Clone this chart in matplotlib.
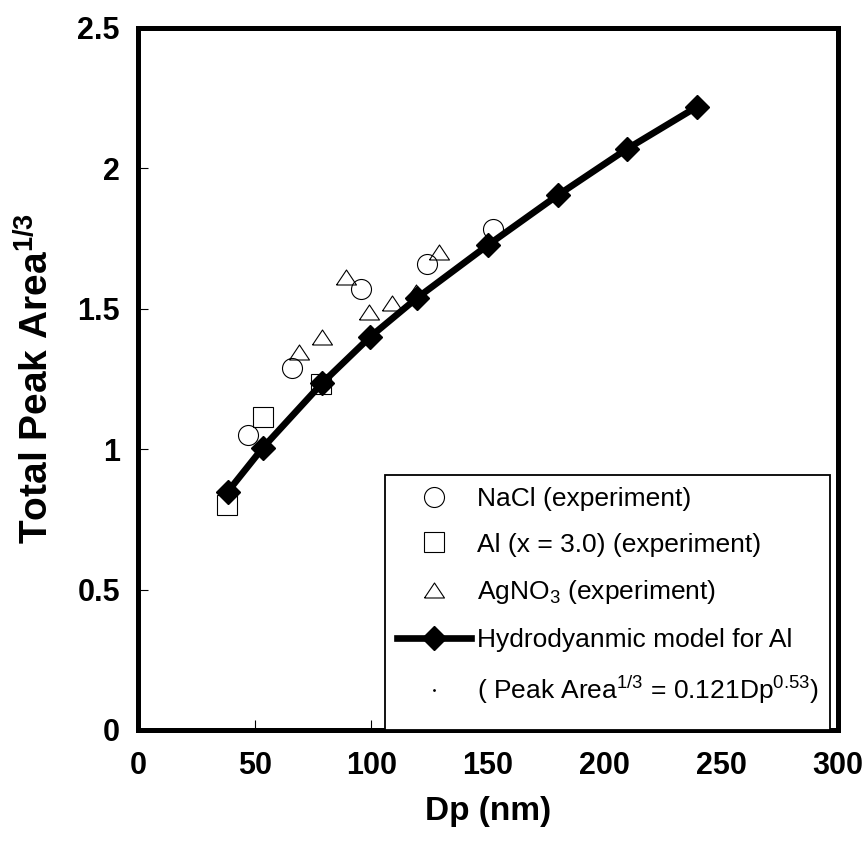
import numpy as np
import matplotlib.pyplot as plt
from matplotlib.lines import Line2D
from matplotlib.patches import Rectangle

plt.rcParams['font.family'] = ['Liberation Sans', 'DejaVu Sans']
plt.rcParams['mathtext.fontset'] = 'custom'
plt.rcParams['mathtext.rm'] = 'Liberation Sans'
plt.rcParams['mathtext.bf'] = 'Liberation Sans:bold'

# data
nacl_x = [47, 66, 95.5, 124, 152]
nacl_y = [1.05, 1.29, 1.57, 1.66, 1.785]

al_x = [38, 53.5, 78.5]
al_y = [0.80, 1.115, 1.232]

agno3_x = [69, 79, 89, 99, 109, 119, 129]
agno3_y = [1.347, 1.40, 1.614, 1.49, 1.52, 1.56, 1.703]

model_x = [38.5, 53.5, 79, 99.5, 119.5, 150, 180, 209.5, 239.5]
model_y = [0.849, 1.005, 1.236, 1.40, 1.538, 1.727, 1.905, 2.069, 2.219]

xticks = [0, 50, 100, 150, 200, 250, 300]
yticks = [0, 0.5, 1, 1.5, 2, 2.5]
ytick_labels = ['0', '0.5', '1', '1.5', '2', '2.5']

# wide open triangle
tri = [(-1, -0.75), (1, -0.75), (0, 0.75), (-1, -0.75)]

fig = plt.figure(figsize=(8.68, 8.51), dpi=100)
ax = fig.add_axes([0.159, 0.1422, 0.8064, 0.8249])

ms = 14.4
ax.plot(nacl_x, nacl_y, ls='none', marker='o', ms=ms, mfc='none', mec='black', mew=0.8)
ax.plot(al_x, al_y, ls='none', marker='s', ms=ms, mfc='none', mec='black', mew=0.8)
ax.plot(agno3_x, agno3_y, ls='none', marker=tri, ms=ms, mfc='none', mec='black', mew=0.8)
ax.plot(model_x, model_y, color='black', lw=4.8, marker='D', ms=12.5, mfc='black', mec='black', zorder=5)

ax.set_xlim(0, 300)
ax.set_ylim(0, 2.5)
ax.set_xticks(xticks)
ax.set_yticks(yticks)
ax.set_yticklabels(ytick_labels)
for s in ax.spines.values():
    s.set_linewidth(3.6)
ax.tick_params(direction='in', length=7, width=0.8, labelsize=22)
ax.tick_params(axis='x', pad=15)
ax.tick_params(axis='y', pad=13)
for lab in ax.get_xticklabels() + ax.get_yticklabels():
    lab.set_fontweight('bold')

ax.set_xlabel('Dp (nm)', fontsize=24, fontweight='bold', labelpad=11)
ax.set_ylabel(r'Total Peak Area$^{\mathbf{1/3}}$', fontsize=28, fontweight='bold', labelpad=15)

# legend box reaching down to the x axis
box = Rectangle((0.353, 0.0), 0.636, 0.363, transform=ax.transAxes, facecolor='white',
                edgecolor='black', lw=1.3, zorder=6)
ax.add_patch(box)

handles = [
    Line2D([], [], ls='none', marker='o', ms=ms, mfc='none', mec='black', mew=0.8),
    Line2D([], [], ls='none', marker='s', ms=ms, mfc='none', mec='black', mew=0.8),
    Line2D([], [], ls='none', marker=tri, ms=ms, mfc='none', mec='black', mew=0.8),
    Line2D([], [], color='black', lw=4.8, marker='D', ms=12.5, mfc='black', mec='black'),
    Line2D([], [], ls='none', marker='.', ms=2, color='black'),
]
labels = [
    'NaCl (experiment)',
    'Al (x = 3.0) (experiment)',
    r'AgNO$_3$ (experiment)',
    'Hydrodyanmic model for Al',
    r'( Peak Area$^{1/3}$ = 0.121Dp$^{0.53}$)',
]
leg = ax.legend(handles, labels, loc='upper left', bbox_to_anchor=(0.353, 0.363),
                fontsize=19, frameon=False, handlelength=2.8, handletextpad=0.25,
                labelspacing=0.82, borderpad=0.45, borderaxespad=0.0)
leg.set_zorder(7)

fig.savefig('out.png', dpi=100)
